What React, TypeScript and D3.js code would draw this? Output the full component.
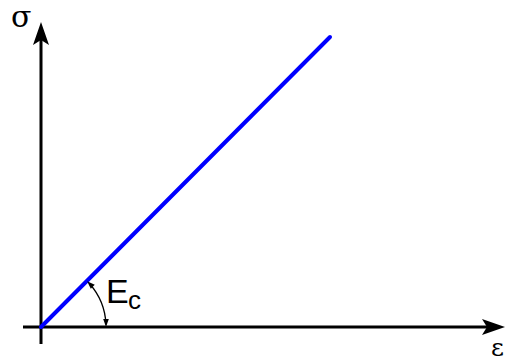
import React from "react";
import * as d3 from "d3";

const strain = [0, 1];
const stress = [0, 1];
const axisLabels = ["σ", "ε"];
const modulusLabel = ["E", "c"];

export default function App() {
  const W = 507, H = 363;
  const x = d3.scaleLinear().domain([0, 1]).range([41, 330]);
  const y = d3.scaleLinear().domain([0, 1]).range([327, 37]);
  const ox = x(0), oy = y(0);
  const line = d3.line<number>().x((_, i) => x(strain[i])).y((d) => y(d));
  const r = 65;
  const ang = Math.atan2(y(0) - y(1), x(1) - x(0));
  const arc = d3.arc()({ innerRadius: r, outerRadius: r, startAngle: Math.PI / 2 - ang + 0.06, endAngle: Math.PI / 2 - 0.04 } as any);
  const p1 = [ox + r * Math.cos(ang - 0.005), oy - r * Math.sin(ang - 0.005)];
  const p2 = [ox + r, oy];
  const ah = (tip: number[], dirAngle: number, len: number, hw: number) => {
    const bx = tip[0] - len * Math.cos(dirAngle), by = tip[1] - len * Math.sin(dirAngle);
    const nx = -Math.sin(dirAngle), ny = Math.cos(dirAngle);
    return `M${tip[0]},${tip[1]}L${bx + nx * hw},${by + ny * hw}L${bx - nx * hw},${by - ny * hw}Z`;
  };
  const t1 = Math.atan2(-Math.cos(ang), -Math.sin(ang));
  const t2 = Math.PI / 2;
  return (
    <svg width={W} height={H} style={{ position: "absolute", left: 0, top: 0 }}>
      <line x1={23} y1={oy} x2={490} y2={oy} stroke="#000" strokeWidth={3} />
      <line x1={ox} y1={344} x2={ox} y2={38} stroke="#000" strokeWidth={3} />
      <path d={`M505,${oy}L482,${oy - 8}L487,${oy}L482,${oy + 8}Z`} fill="#000" />
      <path d={`M${ox},22L${ox - 8},45L${ox},40L${ox + 8},45Z`} fill="#000" />
      <path d={line(stress) || ""} fill="none" stroke="#0000ff" strokeWidth={4} strokeLinecap="round" />
      <path d={arc || ""} transform={`translate(${ox},${oy})`} fill="none" stroke="#000" strokeWidth={1.3} />
      <path d={ah(p1, t1, 8, 2.8)} fill="#000" />
      <path d={ah(p2, t2, 8, 2.8)} fill="#000" />
      <text x={106} y={303} fontFamily="Liberation Sans, Arial, sans-serif" fontSize={34} fill="#000">{modulusLabel[0]}</text>
      <text x={128} y={309} fontFamily="Liberation Sans, Arial, sans-serif" fontSize={26} fill="#000">{modulusLabel[1]}</text>
      <text x={11} y={27} fontFamily="DejaVu Serif, serif" fontSize={30} fill="#000">{axisLabels[0]}</text>
      <text x={491} y={356} fontFamily="DejaVu Serif, serif" fontSize={25} fill="#000">{axisLabels[1]}</text>
    </svg>
  );
}
